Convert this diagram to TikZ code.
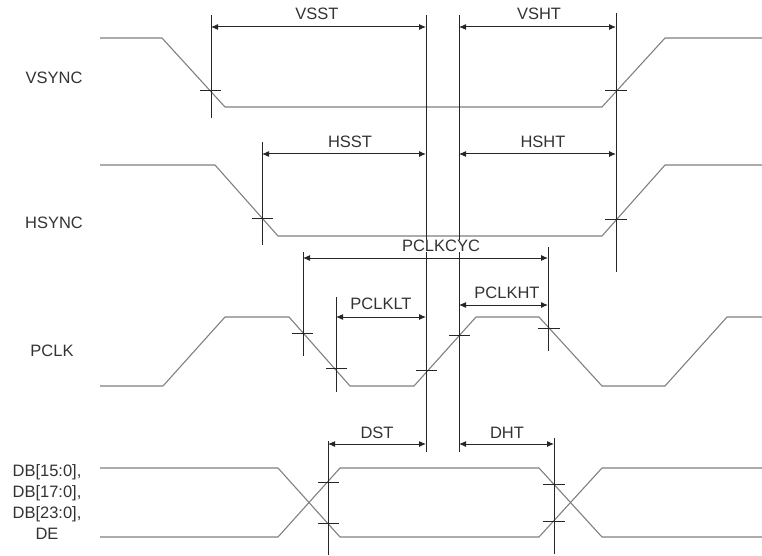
\documentclass[tikz,border=0pt]{standalone}
\usepackage{fontspec}
\setmainfont{Liberation Sans}
\usetikzlibrary{arrows.meta}
\begin{document}
\begin{tikzpicture}[x=1pt,y=-1pt,
  wave/.style={draw=black!50,line width=1.1pt,line join=round},
  dimline/.style={draw=black!85,line width=1pt},
  dimarrow/.style={draw=black!85,line width=1pt,{Latex[length=7pt,width=6pt]}-{Latex[length=7pt,width=6pt]}},
  tickmark/.style={draw=black!85,line width=1pt},
  lbl/.style={font=\fontsize{16.5}{20}\selectfont,text=black!80,inner sep=0pt}]
\useasboundingbox (0,0) rectangle (762,556);

% signal names
\node[lbl] (nVS) at (54,78) {VSYNC};
\node[lbl] (nHS) at (54,223) {HSYNC};
\node[lbl] (nPC) at (52,351) {PCLK};
\node[lbl,align=center,font=\fontsize{16.5}{20.7}\selectfont] (nDB) at (47,502) {DB[15:0],\\DB[17:0],\\DB[23:0],\\DE};

% waveforms
\draw[wave] (100,38) -- (162,38) -- (225,107) -- (602,107) -- (665,38) -- (762,38);
\draw[wave] (100,165) -- (215,165) -- (278,236) -- (602,236) -- (665,165) -- (762,165);
\draw[wave] (100,386) -- (163,386) -- (225,317) -- (289,317) -- (350,386) -- (414,386)
  -- (476,317) -- (539,317) -- (602,386) -- (665,386) -- (727,317) -- (762,317);
\draw[wave] (100,468) -- (278,468) -- (340,537) -- (539,537) -- (602,468) -- (762,468);
\draw[wave] (100,537) -- (278,537) -- (340,468) -- (539,468) -- (602,537) -- (762,537);

% reference (vertical) lines
\coordinate (vst) at (211,15);  \coordinate (vsb) at (211,118);
\coordinate (l1t) at (426,15);  \coordinate (l1b) at (426,452);
\coordinate (l2t) at (459,15);  \coordinate (l2b) at (459,452);
\coordinate (r1t) at (616,13);  \coordinate (r1b) at (616,272);
\coordinate (hst) at (262,142); \coordinate (hsb) at (262,245);
\coordinate (cyt) at (303,252); \coordinate (cyb) at (303,356);
\coordinate (cht) at (548,247); \coordinate (chb) at (548,351);
\coordinate (ltt) at (336,297); \coordinate (ltb) at (336,392);
\coordinate (dst) at (328,441); \coordinate (dsb) at (328,555);
\coordinate (dht) at (554,438); \coordinate (dhb) at (554,554);
\foreach \a/\b in {vst/vsb,l1t/l1b,l2t/l2b,r1t/r1b,hst/hsb,cyt/cyb,cht/chb,ltt/ltb,dst/dsb,dht/dhb}
  \draw[dimline] (\a) -- (\b);

% crossing ticks
\foreach \xa/\xb/\y in {200/221/91, 605/627/91, 252/273/218, 605/627/219,
  292/313/333, 326/347/368, 416/437/370, 449/470/335, 538/560/328,
  318/339/482, 318/339/523, 543/565/484, 543/565/521}
  \draw[tickmark] (\xa,\y) -- (\xb,\y);

% dimension arrows
\coordinate (a1) at (211,27); \coordinate (a2) at (426,27);
\coordinate (a3) at (459,27); \coordinate (a4) at (616,27);
\coordinate (b1) at (262,154); \coordinate (b2) at (426,154);
\coordinate (b3) at (459,154); \coordinate (b4) at (616,154);
\coordinate (c1) at (303,258); \coordinate (c2) at (548,258);
\coordinate (d1) at (336,317); \coordinate (d2) at (426,317);
\coordinate (e1) at (459,305); \coordinate (e2) at (548,305);
\coordinate (f1) at (328,444); \coordinate (f2) at (426,444);
\coordinate (g1) at (459,444); \coordinate (g2) at (554,444);
\foreach \a/\b in {a1/a2,a3/a4,b1/b2,b3/b4,c1/c2,d1/d2,e1/e2,f1/f2,g1/g2}
  \draw[dimarrow] (\a) -- (\b);

% dimension labels
\node[lbl] (tVSST) at (317,14) {VSST};
\node[lbl] (tVSHT) at (539,14) {VSHT};
\node[lbl] (tHSST) at (350,142) {HSST};
\node[lbl] (tHSHT) at (543,142) {HSHT};
\node[lbl,fill=white,inner xsep=1pt] (tCYC) at (441,246) {PCLKCYC};
\node[lbl] (tLT) at (381,304) {PCLKLT};
\node[lbl] (tHT) at (507,293) {PCLKHT};
\node[lbl] (tDST) at (377,433) {DST};
\node[lbl] (tDHT) at (507,433) {DHT};
\end{tikzpicture}
\end{document}
